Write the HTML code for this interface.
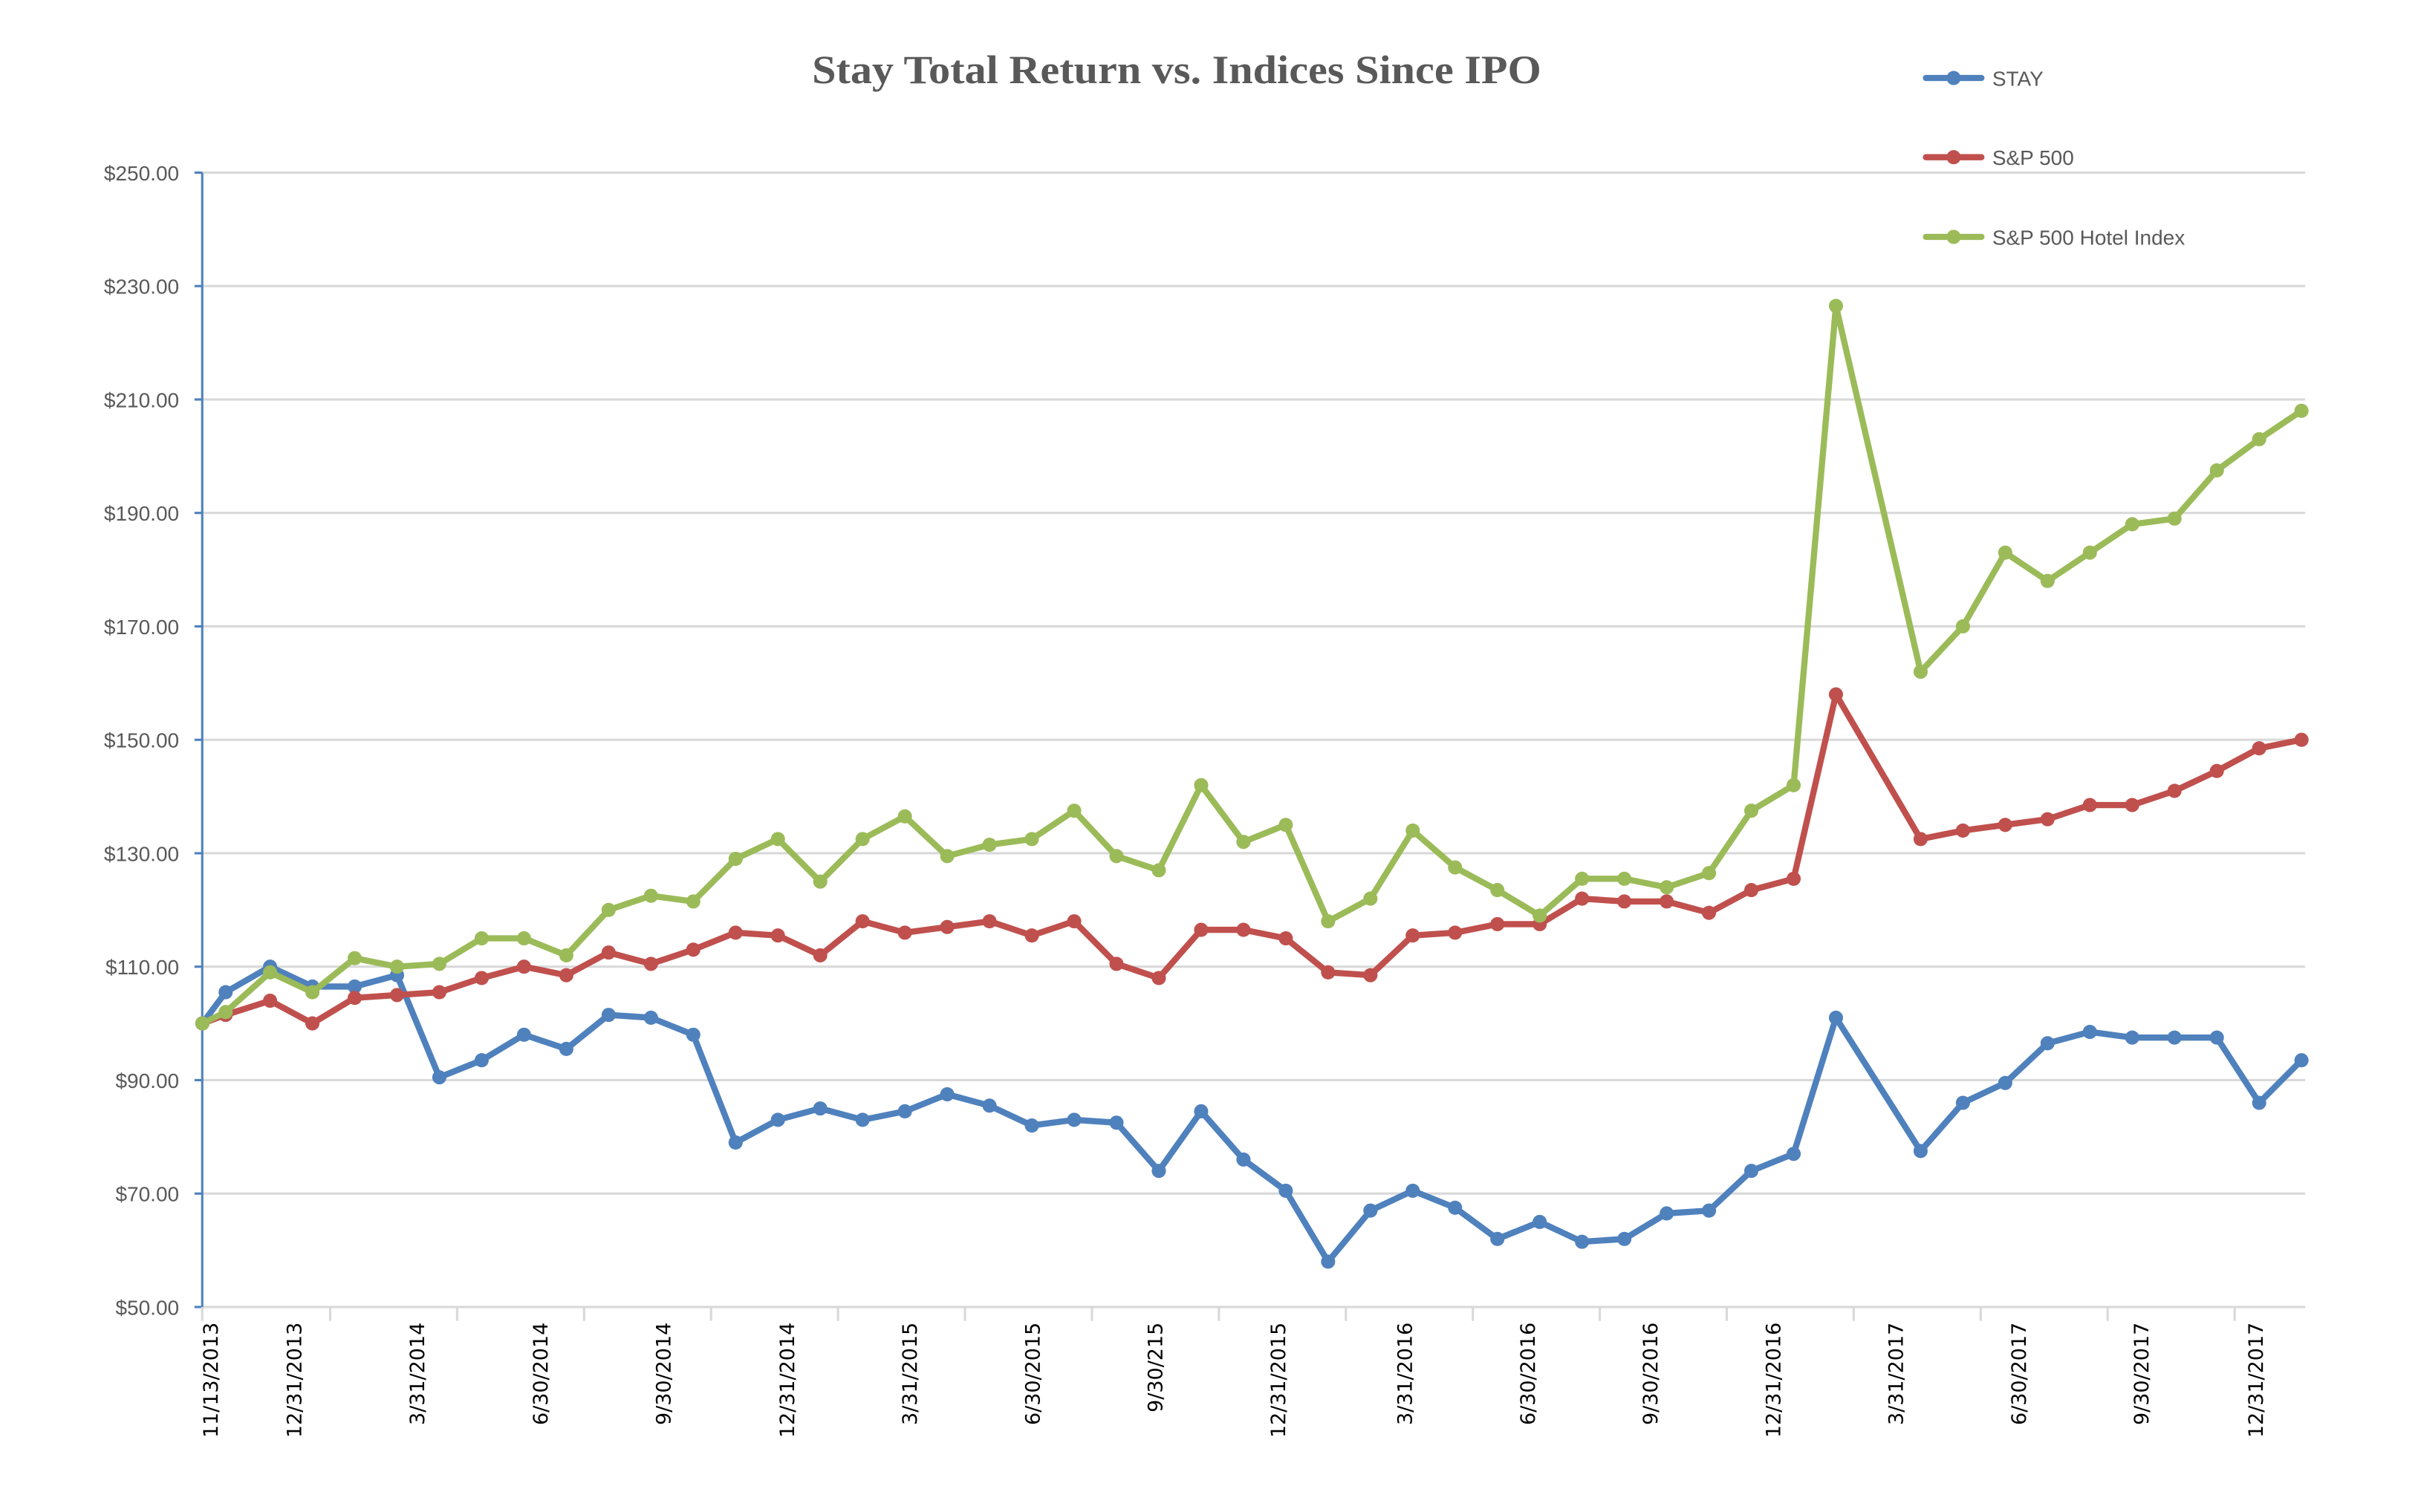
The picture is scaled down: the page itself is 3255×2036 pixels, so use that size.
<!DOCTYPE html>
<html><head><meta charset="utf-8"><style>
html,body{margin:0;padding:0;background:#fff;}
svg{display:block;}
</style></head><body>
<svg id="chart" width="3255" height="2036" viewBox="0 0 1568 981" xmlns="http://www.w3.org/2000/svg">
<text x="763" y="54" text-anchor="middle" font-family="Liberation Serif, serif" font-weight="bold" font-size="26" fill="#595959" textLength="473" lengthAdjust="spacingAndGlyphs">Stay Total Return vs. Indices Since IPO</text>
<g id="grid"></g>
<g id="axes"></g>
<g id="series"></g>
<g id="legend"></g>
</svg>
<script>
const yTicks = [50, 70, 90, 110, 130, 150, 170, 190, 210, 230, 250];
const yTickLabels = ["$50.00","$70.00","$90.00","$110.00","$130.00","$150.00","$170.00","$190.00","$210.00","$230.00","$250.00"];
// month offsets from 12/31/2013 (2/2017 missing)
const months = [-1.6,-1.05,0,1,2,3,4,5,6,7,8,9,10,11,12,13,14,15,16,17,18,19,20,21,22,23,24,25,26,27,28,29,30,31,32,33,34,35,36,37,39,40,41,42,43,44,45,46,47,48];
const stay = [100,105.5,110,106.5,106.5,108.5,90.5,93.5,98,95.5,101.5,101,98,79,83,85,83,84.5,87.5,85.5,82,83,82.5,74,84.5,76,70.5,58,67,70.5,67.5,62,65,61.5,62,66.5,67,74,77,101,77.5,86,89.5,96.5,98.5,97.5,97.5,97.5,86,93.5];
const sp500 = [100,101.5,104,100,104.5,105,105.5,108,110,108.5,112.5,110.5,113,116,115.5,112,118,116,117,118,115.5,118,110.5,108,116.5,116.5,115,109,108.5,115.5,116,117.5,117.5,122,121.5,121.5,119.5,123.5,125.5,158,132.5,134,135,136,138.5,138.5,141,144.5,148.5,150];
const hotel = [100,102,109,105.5,111.5,110,110.5,115,115,112,120,122.5,121.5,129,132.5,125,132.5,136.5,129.5,131.5,132.5,137.5,129.5,127,142,132,135,118,122,134,127.5,123.5,119,125.5,125.5,124,126.5,137.5,142,226.5,162,170,183,178,183,188,189,197.5,203,208];
const xLabels = ["11/13/2013","12/31/2013","3/31/2014","6/30/2014","9/30/2014","12/31/2014","3/31/2015","6/30/2015","9/30/215","12/31/2015","3/31/2016","6/30/2016","9/30/2016","12/31/2016","3/31/2017","6/30/2017","9/30/2017","12/31/2017"];
const xLabelMonths = [-1.42,0.55,3.46,6.37,9.28,12.2,15.1,18.0,20.9,23.8,26.8,29.7,32.6,35.5,38.4,41.3,44.2,46.9];
const seriesNames = ["STAY","S&P 500","S&P 500 Hotel Index"];
const colors = ["#4F81BD","#C0504D","#9BBB59"];

const NS = "http://www.w3.org/2000/svg";
const L = 131, R = 1495, T = 112, B = 848, YMIN = 50, YMAX = 250;
const X0 = 175, MW = 27.45;
function xs(m){ return X0 + m*MW; }
function ys(v){ return B - (v-YMIN)/(YMAX-YMIN)*(B-T); }
function mk(tag, attrs, parent){ const e=document.createElementNS(NS,tag); for(const k in attrs) e.setAttribute(k,attrs[k]); parent.appendChild(e); return e; }

const grid=document.getElementById('grid'), axes=document.getElementById('axes'), ser=document.getElementById('series'), leg=document.getElementById('legend');
yTicks.forEach((v,i)=>{
  const y=ys(v);
  const g=mk('line',{x1:L,x2:R,y1:y,y2:y,stroke:'#D9D9D9','stroke-width':1.5},grid);
  
  
  const tk=mk('line',{x1:L-5,x2:L,y1:y,y2:y,stroke:'#4F81BD','stroke-width':1.5},axes);
  
  
  const t=mk('text',{x:116,y:y+5,'text-anchor':'end','font-family':'Liberation Sans, sans-serif','font-size':13.5,fill:'#595959'},axes);
  t.textContent=yTickLabels[i];
  
  
});
const ya=mk('line',{x1:L,x2:L,y1:T,y2:B,stroke:'#4F81BD','stroke-width':1.5},axes);


for(let m=1.42-3; m<49; m+=3){
  const x = m < 0 ? L : xs(m);
  const tk=mk('line',{x1:x,x2:x,y1:B,y2:B+9,stroke:'#D9D9D9','stroke-width':1.5},axes);
  
  
}
xLabels.forEach((lab,i)=>{
  const x=xs(xLabelMonths[i])+5, y=858;
  const t=mk('text',{x:x,y:y,transform:`rotate(-90 ${x} ${y})`,'text-anchor':'end','font-family':'DejaVu Sans, sans-serif','font-size':13,fill:'#000'},axes);
  t.textContent=lab;
  
  
});
[stay,sp500,hotel].forEach((vals,si)=>{
  const g=mk('g',{},ser);
  
  
  const pts=vals.map((v,i)=>xs(months[i])+','+ys(v)).join(' ');
  const pl=mk('polyline',{points:pts,fill:'none',stroke:colors[si],'stroke-width':4,'stroke-linejoin':'round','stroke-linecap':'round'},g);
  
  
  vals.forEach((v,i)=>{
    const c=mk('circle',{cx:xs(months[i]),cy:ys(v),r:4.6,fill:colors[si]},g);
    
    
  });
});
const legY=[50.6,102,153.7];
seriesNames.forEach((n,i)=>{
  const g=mk('g',{},leg);
  
  
  mk('line',{x1:1249,x2:1285,y1:legY[i],y2:legY[i],stroke:colors[i],'stroke-width':4,'stroke-linecap':'round'},g);
  mk('circle',{cx:1267,cy:legY[i],r:4.6,fill:colors[i]},g);
  const t=mk('text',{x:1292,y:legY[i]+5,'font-family':'Liberation Sans, sans-serif','font-size':13.5,fill:'#595959'},g);
  t.textContent=n;
});
</script>
</body></html>
